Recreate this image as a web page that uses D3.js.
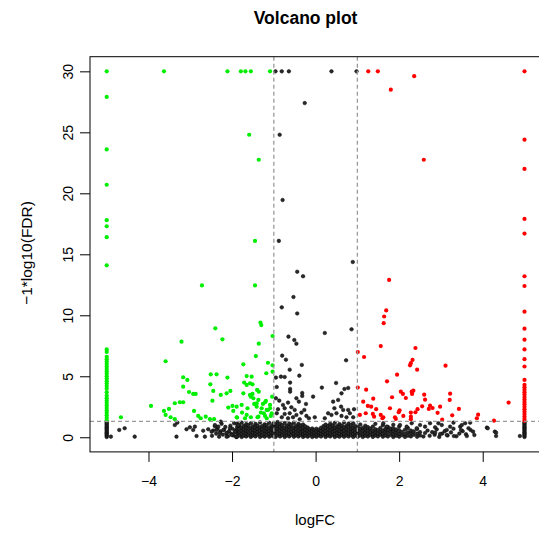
<!DOCTYPE html>
<html>
<head>
<meta charset="utf-8">
<script src="https://cdn.jsdelivr.net/npm/d3@7"></script>
<style>
  html, body { margin: 0; padding: 0; background: #fff; }
  svg { display: block; font-family: "Liberation Sans", Arial, Helvetica, sans-serif; }
</style>
</head>
<body>
<svg id="chart" width="539" height="538"></svg>
<script>
// ---- data: logFC vs -log10(FDR) ----
const xTicks = [-4, -2, 0, 2, 4];
const yTicks = [0, 5, 10, 15, 20, 25, 30];
const fcCut = 1;          // |logFC| threshold
const fdrCut = 0.05;      // FDR threshold

// down-regulated genes (logFC < -1, FDR < 0.05)
const downGenes = [
  [-5,30],[-5,27.9],[-5,23.6],[-5,20.7],[-5,17.8],[-5,17.3],[-5,16.4],[-5,14.1],
  [-5,7.2],[-5,7.0],[-5,6.6],[-5,6.4],[-5,6.2],[-5,6.0],[-5,5.8],[-5,5.6],[-5,5.4],[-5,5.2],
  [-5,5.0],[-5,4.8],[-5,4.6],[-5,4.4],[-5,4.2],[-5,4.0],[-5,3.7],[-5,3.4],[-5,3.2],[-5,3.0],
  [-5,2.8],[-5,2.6],[-5,2.4],[-5,2.2],[-5,2.0],[-5,1.8],[-5,1.6],[-5,1.4],
  [-3.63,30],[-2.11,30],[-1.79,30],[-1.68,30],[-1.55,30],[-1.09,30],
  [-1.59,24.8],[-1.36,22.75],[-1.45,16.1],[-1.45,12.45],[-2.72,12.45],[-2.40,8.93],
  [-1.32,9.4],[-1.30,9.2],[-1.03,8.3],[-1.36,7.67],[-1.43,6.66],[-1.14,6.11],[-1.03,5.9],
  [-1.18,5.25],[-1.03,5.38],[-1.53,4.97],[-1.51,4.34],[-1.40,3.88],[-1.51,3.55],[-1.55,3.33],
  [-1.04,3.33],[-1.21,2.87],[-1.41,2.79],[-1.09,2.65],[-1.29,2.38],[-1.14,2.24],[-1.05,1.97],
  [-1.24,1.97],[-1.37,1.69],[-1.17,1.56],
  [-3.21,7.84],[-2.23,8.03],[-3.59,6.23],[-3.17,4.92],[-3.07,4.7],[-2.51,5.16],[-2.37,5.16],
  [-2.11,4.89],[-3.17,4.15],[-3.03,3.71],[-2.93,3.55],[-2.87,3.55],[-2.52,4.34],[-2.45,3.8],
  [-2.27,3.47],[-2.13,3.6],[-2.04,3.8],[-2.47,3.0],[-3.94,2.57],[-3.63,2.16],[-3.59,1.83],
  [-3.51,2.32],[-3.37,2.79],[-3.25,2.87],[-3.17,2.87],[-3.47,1.64],[-3.37,1.48],[-2.91,2.16],
  [-2.81,1.75],[-2.75,1.56],[-2.63,1.69],[-2.09,2.43],[-1.99,2.57],[-1.97,2.16],[-2.53,1.48],
  [-2.43,1.48],[-1.88,1.61],[-4.66,1.64],
  [-1.73,5.98],[-1.65,5.02],[-1.71,4.48],[-1.65,4.29],[-1.57,4.42],[-1.73,3.6],[-1.57,3.47],
  [-1.36,3.74],[-1.49,3.2],[-1.37,3.06],[-1.19,2.98],[-1.89,2.51],[-1.77,2.65],[-1.63,2.38],
  [-1.47,2.73],[-1.41,2.51],[-1.26,2.73],[-1.17,2.24],[-1.09,2.38],[-1.76,2.02],[-1.65,1.83],
  [-1.55,1.64],[-1.39,1.64],[-1.31,2.02],[-1.21,1.75],[-1.07,1.75],[-1.69,1.56],[-1.89,1.64]
];

// up-regulated genes (logFC > 1, FDR < 0.05)
const upGenes = [
  [5,30],[5,24.4],[5,22.0],[5,17.9],[5,16.7],[5,13.2],[5,12.4],[5,10.3],[5,8.9],[5,8.0],
  [5,7.2],[5,6.4],[5,5.8],[5,4.7],[5,4.3],[5,4.1],[5,3.9],[5,3.7],[5,3.5],[5,3.3],[5,3.1],
  [5,2.9],[5,2.7],[5,2.5],[5,2.3],[5,2.1],[5,1.9],[5,1.7],[5,1.5],[5,1.35],
  [1.26,30],[1.49,30],[2.36,29.6],[1.80,28.5],[2.59,22.75],[1.76,12.9],[1.69,10.4],[1.64,9.9],
  [1.63,9.35],[1.56,7.48],[2.39,7.32],[1.01,6.99],[1.16,6.58],[2.32,6.34],[2.28,6.07],[2.26,5.9],
  [3.11,5.87],[2.43,5.54],[1.95,5.13],[1.71,4.59],[1.01,4.07],[1.21,3.9],[2.04,3.74],[2.09,3.55],
  [2.30,3.74],[2.34,3.82],[2.31,3.55],[2.16,3.22],[1.83,3.28],[1.38,3.16],[2.60,3.49],[2.62,3.08],
  [3.22,3.57],[3.21,3.06],[4.62,2.84],[1.14,2.92],[1.25,2.57],[1.33,2.51],[1.45,2.3],[1.78,2.38],
  [2.01,2.21],[1.99,2.05],[2.28,2.02],[2.39,2.05],[2.44,2.3],[2.55,2.54],[2.74,2.59],[2.80,2.4],
  [2.71,2.32],[2.98,2.51],[2.92,2.0],[3.43,2.32],[3.27,1.8],[3.89,1.85],[3.86,1.56],[4.27,1.36],
  [1.06,1.83],[1.20,1.97],[1.37,1.91],[1.40,1.69],[1.56,1.83],[1.60,1.56],[1.62,1.64],[1.90,1.64],
  [1.92,1.5],[2.10,1.75],[2.28,1.69],[2.28,1.48],[3.03,1.44]
];

// non-significant genes scattered above the FDR line or away from the main band
const otherGenes = [
  [-0.96,30],[-0.81,30],[-0.64,30],[0.38,30],[0.98,30],
  [-0.26,27.4],[-0.86,24.8],[-0.79,19.45],[-0.88,16.1],[0.89,14.37],[-0.44,13.57],[-0.30,13.2],
  [-0.53,11.5],[-0.81,10.65],[-0.44,10.15],[0.22,8.55],[0.86,8.85],[-0.65,8.25],[-0.51,7.97],
  [-0.46,7.67],[-0.80,6.69],[-0.71,6.36],[0.73,6.31],[-0.33,5.93],[-0.62,5.54],[-0.39,5.05],
  [-0.83,4.97],[-0.74,4.94],[-0.93,4.12],[-0.61,4.48],[-0.61,3.96],[-0.61,3.74],[0.15,4.07],
  [0.49,4.45],[0.69,3.96],[0.78,4.04],[0.62,3.6],[-0.32,3.63],[-0.32,3.39],[-0.06,3.33],
  [-0.95,4.89],[-0.95,3.2],[-0.87,3.0],[-0.66,2.84],[-0.46,3.2],[-0.40,2.92],[-0.23,2.73],
  [-0.78,2.65],[-0.74,2.38],[-0.58,2.46],[-0.50,2.24],[-0.27,2.24],[0.42,2.92],[0.54,3.06],
  [0.45,2.38],[0.61,2.51],[0.66,2.24],[0.78,2.24],[0.92,2.3],[-0.90,2.3],[-0.93,1.97],
  [-0.74,1.91],[-0.62,1.97],[-0.46,1.83],[-0.34,2.02],[-0.22,1.75],[0.30,1.97],[0.38,1.83],
  [0.50,1.97],[0.62,1.75],[0.74,1.64],[0.82,1.97],[0.90,1.64],[-0.81,1.64],[-0.66,1.56],
  [-0.54,1.64],[-0.38,1.48],[-0.16,1.56],[-0.02,1.64],[0.22,1.56],
  [-4.70,0.6],[-4.57,0.74],[-4.33,0.05],[-4.9,0.05],[-3.33,0.05],[-3.37,1.0],[-3.31,1.2],
  [-3.09,0.66],[-3.01,0.82],[-2.89,0.87],[-2.93,0.6],[-2.85,0.1],[-2.65,0.05],[-2.69,0.54],
  [-2.57,0.66],[-2.49,0.46],[-2.41,1.0],[-2.33,0.87],[-2.27,1.28],[-2.21,0.6],[-2.13,0.33],
  [-2.05,0.74],[-2.01,0.19],[-1.93,0.46],[-1.85,1.0],[-1.89,0.05],[-2.13,0.05],[-2.37,0.6],
  [-2.29,0.33],
  [1.62,1.15],[1.70,0.87],[1.86,0.74],[2.02,1.0],[2.18,0.87],[2.30,1.15],[2.42,0.74],[2.50,1.0],
  [2.62,0.87],[2.74,1.15],[2.86,0.82],[2.94,1.15],[3.02,1.0],[3.14,0.6],[3.22,0.87],[3.30,1.2],
  [3.46,0.87],[3.58,1.15],[3.66,0.74],[3.77,0.46],[3.70,1.2],[4.10,0.79],[4.29,0.46],[4.32,0.1],
  [3.31,0.1],[3.62,0.1],[3.14,0.19],[2.98,0.27],[2.86,0.38],[4.89,0.1],[4.12,0.74],[4.32,0.38],
  [3.50,1.0],[3.48,0.6],
  [-5,0.02],[-5,0.12],[-5,0.22],[-5,0.32],[-5,0.42],[-5,0.52],[-5,0.62],[-5,0.72],[-5,0.82],
  [-5,0.92],[-5,1.02],[-5,1.12],[-5,1.22],
  [5,0.02],[5,0.12],[5,0.22],[5,0.32],[5,0.42],[5,0.52],[5,0.62],[5,0.72],[5,0.82],
  [5,0.92],[5,1.02],[5,1.12],[5,1.22]
];

// dense band of non-significant genes near the x axis: [logFC, [-log10(FDR) values]]
const bandGenes = [
  [-2.48,[0.12]],[-2.45,[0.55]],[-2.41,[0.9]],[-2.38,[0.3]],[-2.35,[0.7]],[-2.31,[0.05]],
  [-2.28,[0.48]],[-2.25,[1.1]],[-2.22,[0.22]],[-2.19,[0.62]],[-2.16,[0.85]],[-2.13,[0.35]],
  [-2.10,[0.08]],[-2.07,[0.5]],[-2.04,[0.95]],[-2.02,[0.28]],[-1.99,[0.7]],[-1.97,[0.15]],
  [-1.95,[1.15]],[-1.93,[0.42]],[-1.91,[0.6]],[-1.90,[0.02]],
  [-1.88,[0.04,0.33,0.58,0.86,1.12]],[-1.83,[0.16,0.45,0.71,0.98]],
  [-1.77,[0.02,0.27,0.52,0.79,1.2]],[-1.72,[0.12,0.4,0.66,0.93]],
  [-1.66,[0.06,0.31,0.56,0.84,1.08]],[-1.61,[0.18,0.47,0.74,1.0]],
  [-1.55,[0.03,0.25,0.5,0.77,1.15]],[-1.50,[0.14,0.38,0.63,0.9]],
  [-1.44,[0.07,0.32,0.57,0.83,1.1]],[-1.39,[0.2,0.44,0.7,0.96]],
  [-1.33,[0.02,0.28,0.53,0.8,1.22]],[-1.28,[0.13,0.41,0.67,0.92]],
  [-1.22,[0.05,0.3,0.55,0.82,1.06]],[-1.17,[0.17,0.46,0.73,1.0]],
  [-1.11,[0.04,0.26,0.51,0.78,1.18]],[-1.06,[0.15,0.39,0.64,0.91]],
  [-1.01,[0.08,0.34,0.6,0.87,1.12]],
  [-0.96,[0.03,0.29,0.54,0.81,1.08]],[-0.91,[0.16,0.43,0.69,0.95,1.25]],
  [-0.85,[0.06,0.31,0.57,0.84,1.1]],[-0.80,[0.19,0.45,0.72,0.99]],
  [-0.74,[0.02,0.27,0.52,0.78,1.16]],[-0.69,[0.14,0.4,0.66,0.93]],
  [-0.63,[0.07,0.33,0.59,0.86,1.12]],[-0.58,[0.2,0.47,0.74,1.02]],
  [-0.52,[0.04,0.28,0.53,0.8,1.2]],[-0.47,[0.15,0.42,0.68,0.94]],
  [-0.41,[0.06,0.32,0.58,0.85,1.1]],[-0.36,[0.18,0.44,0.7,0.97]],
  [-0.30,[0.03,0.26,0.51,0.77,1.05]],[-0.25,[0.13,0.39,0.64,0.9]],
  [-0.19,[0.05,0.3,0.56,0.8]],[-0.14,[0.16,0.42,0.66]],
  [-0.08,[0.02,0.27,0.5,0.72]],[-0.03,[0.12,0.36,0.6]],
  [0.02,[0.04,0.25,0.48,0.7]],[0.08,[0.15,0.38,0.62]],
  [0.13,[0.06,0.3,0.55,0.78]],[0.19,[0.18,0.43,0.68,0.92]],
  [0.24,[0.03,0.27,0.52,0.79,1.04]],[0.30,[0.14,0.4,0.66,0.93]],
  [0.35,[0.07,0.33,0.58,0.85,1.1]],[0.41,[0.19,0.45,0.71,0.98]],
  [0.46,[0.02,0.28,0.54,0.8,1.18]],[0.52,[0.13,0.39,0.65,0.91]],
  [0.57,[0.05,0.31,0.57,0.83,1.08]],[0.63,[0.17,0.44,0.7,0.96]],
  [0.68,[0.04,0.29,0.55,0.82,1.22]],[0.74,[0.15,0.41,0.67,0.94]],
  [0.79,[0.06,0.32,0.58,0.85,1.12]],[0.85,[0.18,0.46,0.73,1.0]],
  [0.90,[0.03,0.27,0.53,0.79,1.15]],[0.95,[0.14,0.4,0.66,0.92]],
  [1.01,[0.05,0.3,0.56,0.84]],[1.07,[0.16,0.43,0.7,1.05]],[1.13,[0.02,0.27,0.52,0.78]],
  [1.19,[0.13,0.39,0.65,0.95]],[1.25,[0.06,0.32,0.58,0.83]],[1.31,[0.19,0.45,0.72]],
  [1.37,[0.03,0.28,0.54,0.88]],[1.43,[0.14,0.4,0.66,1.1]],[1.49,[0.07,0.33,0.6]],
  [1.55,[0.2,0.46,0.76]],[1.61,[0.04,0.29,0.55,0.98]],[1.67,[0.15,0.42,0.68]],
  [1.73,[0.06,0.34,0.6,0.85]],[1.80,[0.18,0.47,0.72]],[1.86,[0.02,0.26,0.52,1.02]],
  [1.93,[0.12,0.38,0.64]],[2.00,[0.05,0.3,0.58,0.88]],[2.07,[0.17,0.44]],
  [2.14,[0.03,0.28,0.62]],[2.21,[0.13,0.4,0.75]],[2.28,[0.07,0.33,0.55]],
  [2.35,[0.2,0.48]],[2.43,[0.04,0.3,0.68]],[2.50,[0.15,0.42]],
  [2.58,[0.06]],[2.62,[0.35]],[2.68,[0.55]],[2.73,[0.12]],[2.79,[0.42]],[2.85,[0.2]],
  [2.90,[0.65]],[2.96,[0.03]],[3.03,[0.3]],[3.09,[0.5]],[3.16,[0.15]],[3.24,[0.4]],
  [3.30,[0.7]],[3.37,[0.08]],[3.44,[0.3]],[3.52,[0.5]],[3.60,[0.25]],[3.71,[0.6]],[3.80,[0.18]]
];

// ---- layout ----
const svg = d3.select("#chart");
const plotLeft = 90, plotRight = 541.2, plotTop = 56.7, plotBottom = 451.9;

const x = d3.scaleLinear().domain([-5.4, 5.4]).range([plotLeft, plotRight]);
const y = d3.scaleLinear().domain([-1.2, 31.2]).range([plotBottom, plotTop]);

const minus = d => (d < 0 ? "\u2212" + Math.abs(d) : String(d));

// title
svg.append("text")
  .attr("x", 305.6).attr("y", 24)
  .attr("text-anchor", "middle")
  .style("font-size", "17.5px").style("font-weight", "bold")
  .text("Volcano plot");

// points
const bandPoints = bandGenes.flatMap(([fc, ys]) => ys.map(v => [fc, v]));
const plot = svg.append("g");

plot.append("g").selectAll("circle")
  .data(bandPoints.concat(otherGenes))
  .join("circle")
  .attr("cx", d => x(d[0])).attr("cy", d => y(d[1]))
  .attr("r", 1.8)
  .attr("fill", "#2a2a2a").attr("stroke", "#000").attr("stroke-width", 0.5);

plot.append("g").selectAll("circle")
  .data(downGenes)
  .join("circle")
  .attr("cx", d => x(d[0])).attr("cy", d => y(d[1]))
  .attr("r", 2.1).attr("fill", "#00ee00");

plot.append("g").selectAll("circle")
  .data(upGenes)
  .join("circle")
  .attr("cx", d => x(d[0])).attr("cy", d => y(d[1]))
  .attr("r", 2.1).attr("fill", "#ff0000");

// threshold lines
const dash = "4,3";
[-fcCut, fcCut].forEach(v => {
  svg.append("line")
    .attr("x1", x(v)).attr("x2", x(v))
    .attr("y1", plotTop).attr("y2", plotBottom)
    .attr("stroke", "#9a9a9a").attr("stroke-width", 1.3)
    .attr("stroke-dasharray", dash);
});
svg.append("line")
  .attr("x1", plotLeft).attr("x2", plotRight)
  .attr("y1", y(-Math.log10(fdrCut))).attr("y2", y(-Math.log10(fdrCut)))
  .attr("stroke", "#9a9a9a").attr("stroke-width", 1.3)
  .attr("stroke-dasharray", dash);

// frame
svg.append("rect")
  .attr("x", plotLeft).attr("y", plotTop)
  .attr("width", plotRight - plotLeft).attr("height", plotBottom - plotTop)
  .attr("fill", "none").attr("stroke", "#000").attr("stroke-width", 1);

// x axis
const gx = svg.append("g")
  .attr("transform", `translate(0,${plotBottom})`)
  .call(d3.axisBottom(x).tickValues(xTicks).tickSize(10).tickFormat(minus));
gx.select(".domain").remove();
gx.selectAll(".tick line").attr("stroke", "#000");
gx.selectAll(".tick text")
  .attr("y", 34.5).attr("dy", 0)
  .style("font-size", "14px").style("font-family", "Liberation Sans, Arial, sans-serif")
  .attr("fill", "#000");

// y axis
const gy = svg.append("g")
  .attr("transform", `translate(${plotLeft},0)`)
  .call(d3.axisLeft(y).tickValues(yTicks).tickSize(10).tickFormat(minus));
gy.select(".domain").remove();
gy.selectAll(".tick line").attr("stroke", "#000");
gy.selectAll(".tick text")
  .attr("x", 0).attr("dy", 0)
  .attr("text-anchor", "middle")
  .attr("transform", "translate(-17,0) rotate(-90)")
  .style("font-size", "14px").style("font-family", "Liberation Sans, Arial, sans-serif")
  .attr("fill", "#000");

// axis titles
svg.append("text")
  .attr("x", 315).attr("y", 525)
  .attr("text-anchor", "middle")
  .style("font-size", "15px")
  .text("logFC");

svg.append("text")
  .attr("transform", "translate(32,253) rotate(-90)")
  .attr("text-anchor", "middle")
  .style("font-size", "15.5px")
  .text("\u22121*log10(FDR)");
</script>
</body>
</html>
